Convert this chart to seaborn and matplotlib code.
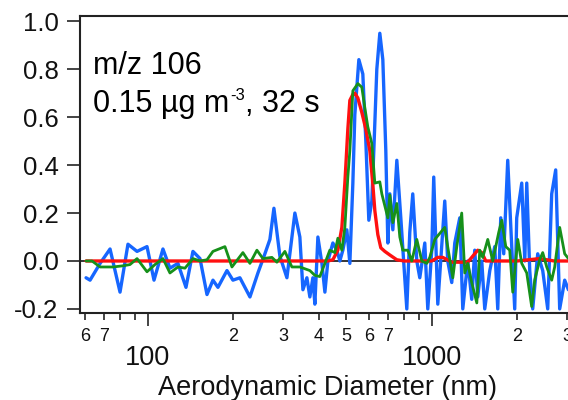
import numpy as np
import pandas as pd
import matplotlib
matplotlib.use("Agg")
import matplotlib.pyplot as plt
import seaborn as sns
from matplotlib.ticker import FixedLocator, FuncFormatter

# ---- data (aerodynamic diameter in nm, normalised signal) ----
blue_d = [60.5, 62.5, 67.8, 73.5, 79.7, 85.0, 91.5, 99.2, 105.0, 112.9, 119.5, 127.5,
          136.1, 144.0, 152.5, 161.4, 169.4, 176.4, 189.8, 199.2, 210.8, 228.7, 244.0,
          258.2, 268.9, 277.8, 291.6, 308.7, 329.3, 342.9, 351.5, 363.0, 371.9, 381.1,
          387.3, 396.9, 410.0, 420.1, 430.4, 448.2, 462.9, 474.3, 486.0, 502.0, 514.4,
          527.1, 535.6, 553.4, 571.5, 585.6, 600.0, 614.8, 624.8, 640.2, 656.0, 672.2,
          688.7, 700.1, 711.5, 729.1, 753.1, 777.8, 816.6, 836.6, 857.0, 885.5, 907.3,
          944.9, 968.1, 1000, 1016, 1050, 1111, 1138, 1176, 1205, 1255, 1286, 1339,
          1383, 1417, 1452, 1500, 1537, 1601, 1667, 1708, 1750, 1793, 1852, 1913, 1960,
          1992, 2075, 2127, 2161, 2214, 2268, 2362, 2460, 2562, 2646, 2733, 2823, 2940, 3030]
blue_v = [-0.07, -0.08, -0.01, 0.05, -0.13, 0.07, 0.04, 0.06, -0.08, 0.05, -0.03, -0.01,
          -0.11, 0.04, 0.01, -0.14, -0.08, -0.11, -0.04, -0.08, -0.07, -0.15, -0.05,
          0.03, 0.09, 0.22, 0.02, -0.07, 0.20, 0.10, -0.12, -0.07, -0.15, -0.07,
          -0.18, 0.10, -0.01, -0.13, 0.00, 0.075, 0.045, 0.00, 0.045, 0.13, -0.01,
          0.325, 0.61, 0.84, 0.78, 0.50, 0.17, 0.25, 0.46, 0.80, 0.95, 0.84,
          0.46, 0.075, 0.28, 0.13, 0.42, 0.18, -0.20, 0.12, 0.28, 0.00, -0.07,
          0.075, -0.20, 0.045, 0.35, -0.18, 0.25, 0.00, -0.09, 0.075, 0.18, -0.20, 0.00,
          -0.16, 0.045, -0.15, 0.00, -0.20, -0.04, 0.06, -0.20, 0.18, 0.03, 0.42, 0.06, -0.20,
          0.18, 0.325, 0.00, 0.325, -0.04, -0.20, 0.03, -0.04, -0.20, 0.28, 0.38, -0.20, -0.08, -0.12]

green_d = [60.5, 63.5, 67.8, 75.3, 81.7, 86.4, 91.5, 99.2, 105.8, 112.9, 119.5, 127.5,
           135.0, 144.0, 152.5, 161.4, 169.4, 186.7, 197.6, 216.0, 228.7, 242.0, 254.1,
           273.3, 284.6, 303.7, 321.4, 342.9, 371.9, 387.3, 403.3, 420.1, 437.2, 455.6,
           466.7, 482.1, 494.0, 506.1, 514.4, 527.1, 548.9, 566.8, 580.8, 595.1, 614.8,
           630.0, 656.0, 666.8, 700.1, 711.5, 729.1, 753.1, 771.5, 790.5, 823.3, 850.4,
           885.5, 922.2, 960.3, 984.0, 1025, 1067, 1111, 1138, 1186, 1225, 1275, 1307,
           1339, 1383, 1441, 1476, 1512, 1575, 1640, 1722, 1764, 1823, 1882, 1929, 2009,
           2075, 2161, 2249, 2305, 2401, 2460, 2541, 2646, 2711, 2823, 2940, 3030]
green_v = [0.00, 0.00, -0.025, -0.025, -0.02, -0.015, 0.01, -0.045, -0.015, 0.01, -0.05, -0.025,
           -0.03, 0.01, 0.00, 0.005, 0.04, 0.06, -0.025, 0.035, -0.01, 0.045, 0.01,
           0.015, -0.005, 0.04, -0.025, -0.025, -0.04, -0.06, -0.065, -0.01, 0.045, 0.035,
           0.095, 0.045, 0.14, 0.35, 0.46, 0.71, 0.74, 0.725, 0.64, 0.56, 0.49,
           0.325, 0.33, 0.28, 0.18, 0.275, 0.16, 0.24, 0.10, 0.045, 0.045, 0.00,
           0.09, 0.00, -0.01, 0.015, 0.09, 0.115, 0.14, 0.06, -0.07, 0.06, 0.20, -0.05,
           -0.01, -0.09, -0.175, 0.045, 0.015, 0.09, 0.00, 0.12, 0.17, 0.06, 0.045, -0.13, 0.09,
           -0.01, -0.05, -0.19, -0.08, 0.005, 0.035, -0.025, -0.08, -0.025, 0.14, 0.03, 0.01]

red_d = [60.5, 80.0, 100.0, 130.0, 170.0, 220.0, 280.0, 340.0, 400.0, 430.4, 448.2,
         466.7, 482.1, 494.0, 506.1, 514.4, 527.1, 535.6, 548.9, 566.8, 585.6, 604.9,
         619.8, 630.0, 645.5, 661.3, 683.2, 711.5, 753.1, 800.0, 880.0, 1000, 1050,
         1093, 1176, 1339, 1452, 1500, 1550, 2000, 2400, 2700, 3030]
red_v = [0.00, 0.00, 0.00, 0.00, 0.00, 0.00, 0.00, 0.00, 0.00, 0.00, 0.005,
         0.045, 0.14, 0.325, 0.55, 0.67, 0.695, 0.70, 0.68, 0.62, 0.55, 0.46,
         0.32, 0.21, 0.11, 0.055, 0.04, 0.025, 0.005, 0.00, 0.00, 0.00, 0.015,
         0.015, -0.005, -0.005, 0.045, 0.035, 0.00, 0.00, 0.01, 0.00, 0.00]

x_major = [100, 1000]
x_minor = [60, 70, 80, 90, 200, 300, 400, 500, 600, 700, 800, 900, 2000, 3000]
y_ticks = [-0.2, 0.0, 0.2, 0.4, 0.6, 0.8, 1.0]

annot_line1 = "m/z 106"
annot_line2_a = "0.15 µg m"
annot_line2_sup = "-3"
annot_line2_b = ", 32 s"
xlabel = "Aerodynamic Diameter (nm)"

# ---- style ----
sns.set_theme(style="ticks")
plt.rcParams['font.family'] = ['Liberation Sans', 'DejaVu Sans']

W, H = 568, 400
fig = plt.figure(figsize=(W / 100, H / 100), dpi=100)
ax = fig.add_axes([80 / W, 1 - 313 / H, 488 / W, (313 - 16) / H])

ax.axhline(0, color='black', lw=1.1, zorder=1)

df_b = pd.DataFrame({'d': blue_d, 'v': blue_v})
df_g = pd.DataFrame({'d': green_d, 'v': green_v})
df_r = pd.DataFrame({'d': red_d, 'v': red_v})

sns.lineplot(data=df_b, x='d', y='v', ax=ax, color='#1666ff', lw=2.4,
             estimator=None, sort=False, zorder=2)
sns.lineplot(data=df_r, x='d', y='v', ax=ax, color='#ff1010', lw=2.4,
             estimator=None, sort=False, zorder=3)
sns.lineplot(data=df_g, x='d', y='v', ax=ax, color='#16901a', lw=2.0,
             estimator=None, sort=False, zorder=4)

ax.set_xscale('log')
ax.set_xlim(57.6, 3020)
ax.set_ylim(-0.217, 1.022)

ax.xaxis.set_major_locator(FixedLocator(x_major))
ax.xaxis.set_minor_locator(FixedLocator(x_minor))
ax.xaxis.set_major_formatter(FuncFormatter(lambda v, p: f"{int(round(v))}"))

def minor_fmt(v, p):
    m = int(round(v / 10 ** np.floor(np.log10(v) + 1e-9)))
    return str(m) if 2 <= m <= 7 else ""

ax.xaxis.set_minor_formatter(FuncFormatter(minor_fmt))
ax.set_yticks(y_ticks)
ax.yaxis.set_major_formatter(FuncFormatter(lambda v, p: f"{v:.1f}"))

ax.tick_params(axis='y', which='major', direction='out', length=9.4, width=1.1,
               pad=6, labelsize=18.5, colors='#111111')
ax.tick_params(axis='x', which='major', direction='out', length=9.4, width=1.1,
               pad=13.5, labelsize=19.5, colors='#111111')
ax.tick_params(axis='x', which='minor', direction='out', length=5.0, width=1.1,
               pad=6, labelsize=13, colors='#111111')

for side in ['left', 'bottom', 'top']:
    ax.spines[side].set_visible(True)
    ax.spines[side].set_linewidth(1.5)
    ax.spines[side].set_color('#222222')
ax.spines['right'].set_visible(False)

ax.set_xlabel('')
ax.set_ylabel('')
ax.grid(False)

fs = 22
fig.text(93 / W, 1 - 74 / H, annot_line1, fontsize=fs, va='baseline', ha='left', color='black')
t1 = fig.text(93 / W, 1 - 112 / H, annot_line2_a, fontsize=fs, va='baseline', ha='left', color='black')
fig.canvas.draw()
bb = t1.get_window_extent()
t2 = fig.text(bb.x1 / W + 0.002, 1 - 100 / H, annot_line2_sup, fontsize=12, va='baseline',
              ha='left', color='black')
fig.canvas.draw()
bb2 = t2.get_window_extent()
fig.text(bb2.x1 / W, 1 - 112 / H, annot_line2_b, fontsize=fs, va='baseline', ha='left', color='black')

fig.text(327 / W, 1 - 395 / H, xlabel, fontsize=19.5, va='baseline', ha='center', color='#111111')

fig.savefig("out.png", dpi=100)
